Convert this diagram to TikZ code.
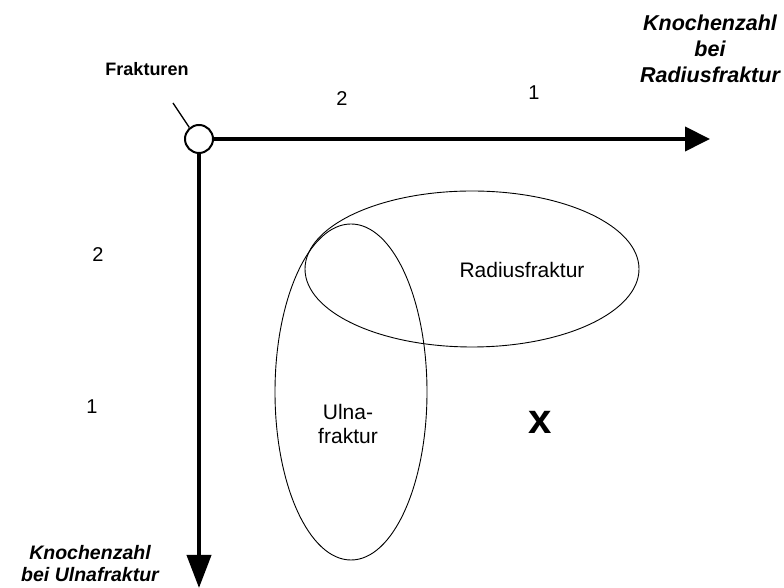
\documentclass[tikz,border=0pt]{standalone}
\usepackage{fontspec}
\setmainfont{Liberation Sans}
\usetikzlibrary{arrows.meta}
\begin{document}
\begin{tikzpicture}[
    x=1pt, y=1pt,
    line join=round,
    axis/.style={line width=4pt,-{Triangle[length=25pt,width=24pt]}},
    menge/.style={line width=0.9pt},
    zahl/.style={font=\fontsize{20}{24}\selectfont},
    titel/.style={font=\fontsize{21.5}{26}\selectfont\bfseries\itshape,align=center},
    inhalt/.style={font=\fontsize{21}{24}\selectfont,align=center}
]

\useasboundingbox (0,0) rectangle (784,588);

% -------------------------------------------------
% Ursprung und Achsen
% -------------------------------------------------

\node[draw,circle,line width=2pt,minimum size=28pt,inner sep=0pt] (O) at (199,449) {};

\coordinate (xtip) at (710,449);
\coordinate (ytip) at (199,0);
\coordinate (zeiger) at (173,485);

\draw[axis] (O.east)--(xtip);
\draw[axis,-{Triangle[length=33pt,width=24pt]}] (O.south)--(ytip);

\draw[line width=1.3pt] (zeiger)--(O.130);

% -------------------------------------------------
% Mengen
% -------------------------------------------------

\draw[menge] (472,319) ellipse [x radius=167, y radius=78];
\draw[menge] (351,196) ellipse [x radius=76, y radius=168];

% -------------------------------------------------
% Beschriftungen
% -------------------------------------------------

\node[font=\fontsize{18}{21}\selectfont\bfseries] (frakt) at (147,519) {Frakturen};

\node[titel] (radzahl) at (710,539) {Knochenzahl\\bei\\Radiusfraktur};
\node[titel,font=\fontsize{19.5}{22}\selectfont\bfseries\itshape] (ulnzahl) at (90,24) {Knochenzahl\\bei Ulnafraktur};

\node[zahl] (x2) at (342,489) {2};
\node[zahl] (x1) at (534,495) {1};
\node[zahl] (y2) at (98,333) {2};
\node[zahl] (y1) at (92,181) {1};

\node[inhalt] (rad) at (522,318) {Radiusfraktur};
\node[inhalt] (uln) at (348,164) {Ulna-\\fraktur};

\node[font=\fontsize{42}{46}\selectfont\bfseries] (kreuz) at (540,166) {x};

\end{tikzpicture}
\end{document}
